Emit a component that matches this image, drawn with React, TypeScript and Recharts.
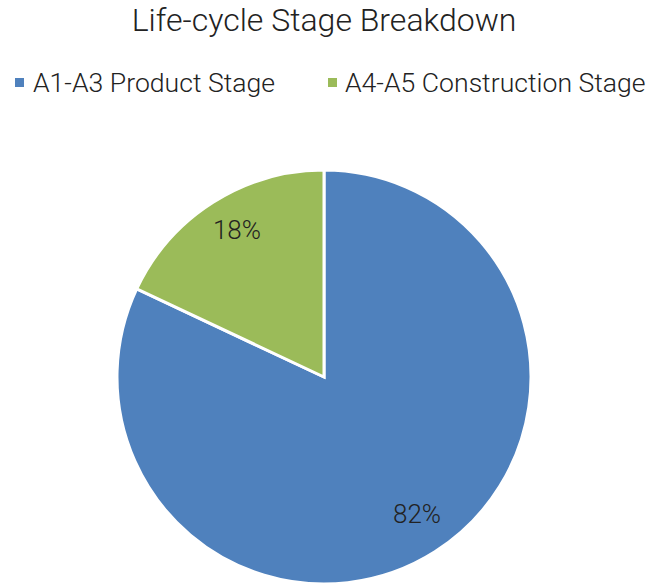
import React from 'react';
import { PieChart, Pie, Cell } from 'recharts';

const stages = ['A1-A3 Product Stage', 'A4-A5 Construction Stage'];
const shares = [82, 18];
const colors = ['#4F81BD', '#9BBB59'];

const data = stages.map((name, i) => ({ name, value: shares[i] }));

const FONT = 'Roboto, sans-serif';
const RADIAN = Math.PI / 180;

function renderLabel(props: any) {
  const { cx, cy, midAngle, value } = props;
  const r = 168;
  const x = cx + r * Math.cos(-midAngle * RADIAN) + 3;
  const y = cy + r * Math.sin(-midAngle * RADIAN) - 5;
  return (
    <text
      x={x}
      y={y}
      textAnchor="middle"
      dominantBaseline="central"
      fill="#222"
      fontSize={26}
      fontWeight={300}
      fontFamily={FONT}
    >
      {value}%
    </text>
  );
}

export default function App() {
  return (
    <div style={{ position: 'absolute', left: 0, top: 0, width: 647, height: 583, background: '#fff' }}>
      <PieChart width={647} height={583} margin={{ top: 0, right: 0, bottom: 0, left: 0 }}>
        <Pie
          data={data}
          dataKey="value"
          nameKey="name"
          cx={324}
          cy={377}
          outerRadius={207}
          startAngle={90}
          endAngle={-270}
          stroke="#fff"
          strokeWidth={3}
          label={renderLabel}
          labelLine={false}
          isAnimationActive={false}
        >
          {data.map((d, i) => (
            <Cell key={d.name} fill={colors[i]} />
          ))}
        </Pie>
      </PieChart>
      <svg width={647} height={120} style={{ position: 'absolute', left: 0, top: 0 }}>
        <text x={324} y={31} textAnchor="middle" fontSize={32} fontWeight={300} fontFamily={FONT} fill="#222">
          Life-cycle Stage Breakdown
        </text>
        <rect x={15} y={78} width={9} height={9} fill={colors[0]} />
        <text x={33} y={92} fontSize={26.6} fontWeight={300} fontFamily={FONT} fill="#222">
          {stages[0]}
        </text>
        <rect x={328} y={78} width={9} height={9} fill={colors[1]} />
        <text x={345} y={92} fontSize={26.6} fontWeight={300} fontFamily={FONT} fill="#222">
          {stages[1]}
        </text>
      </svg>
    </div>
  );
}
